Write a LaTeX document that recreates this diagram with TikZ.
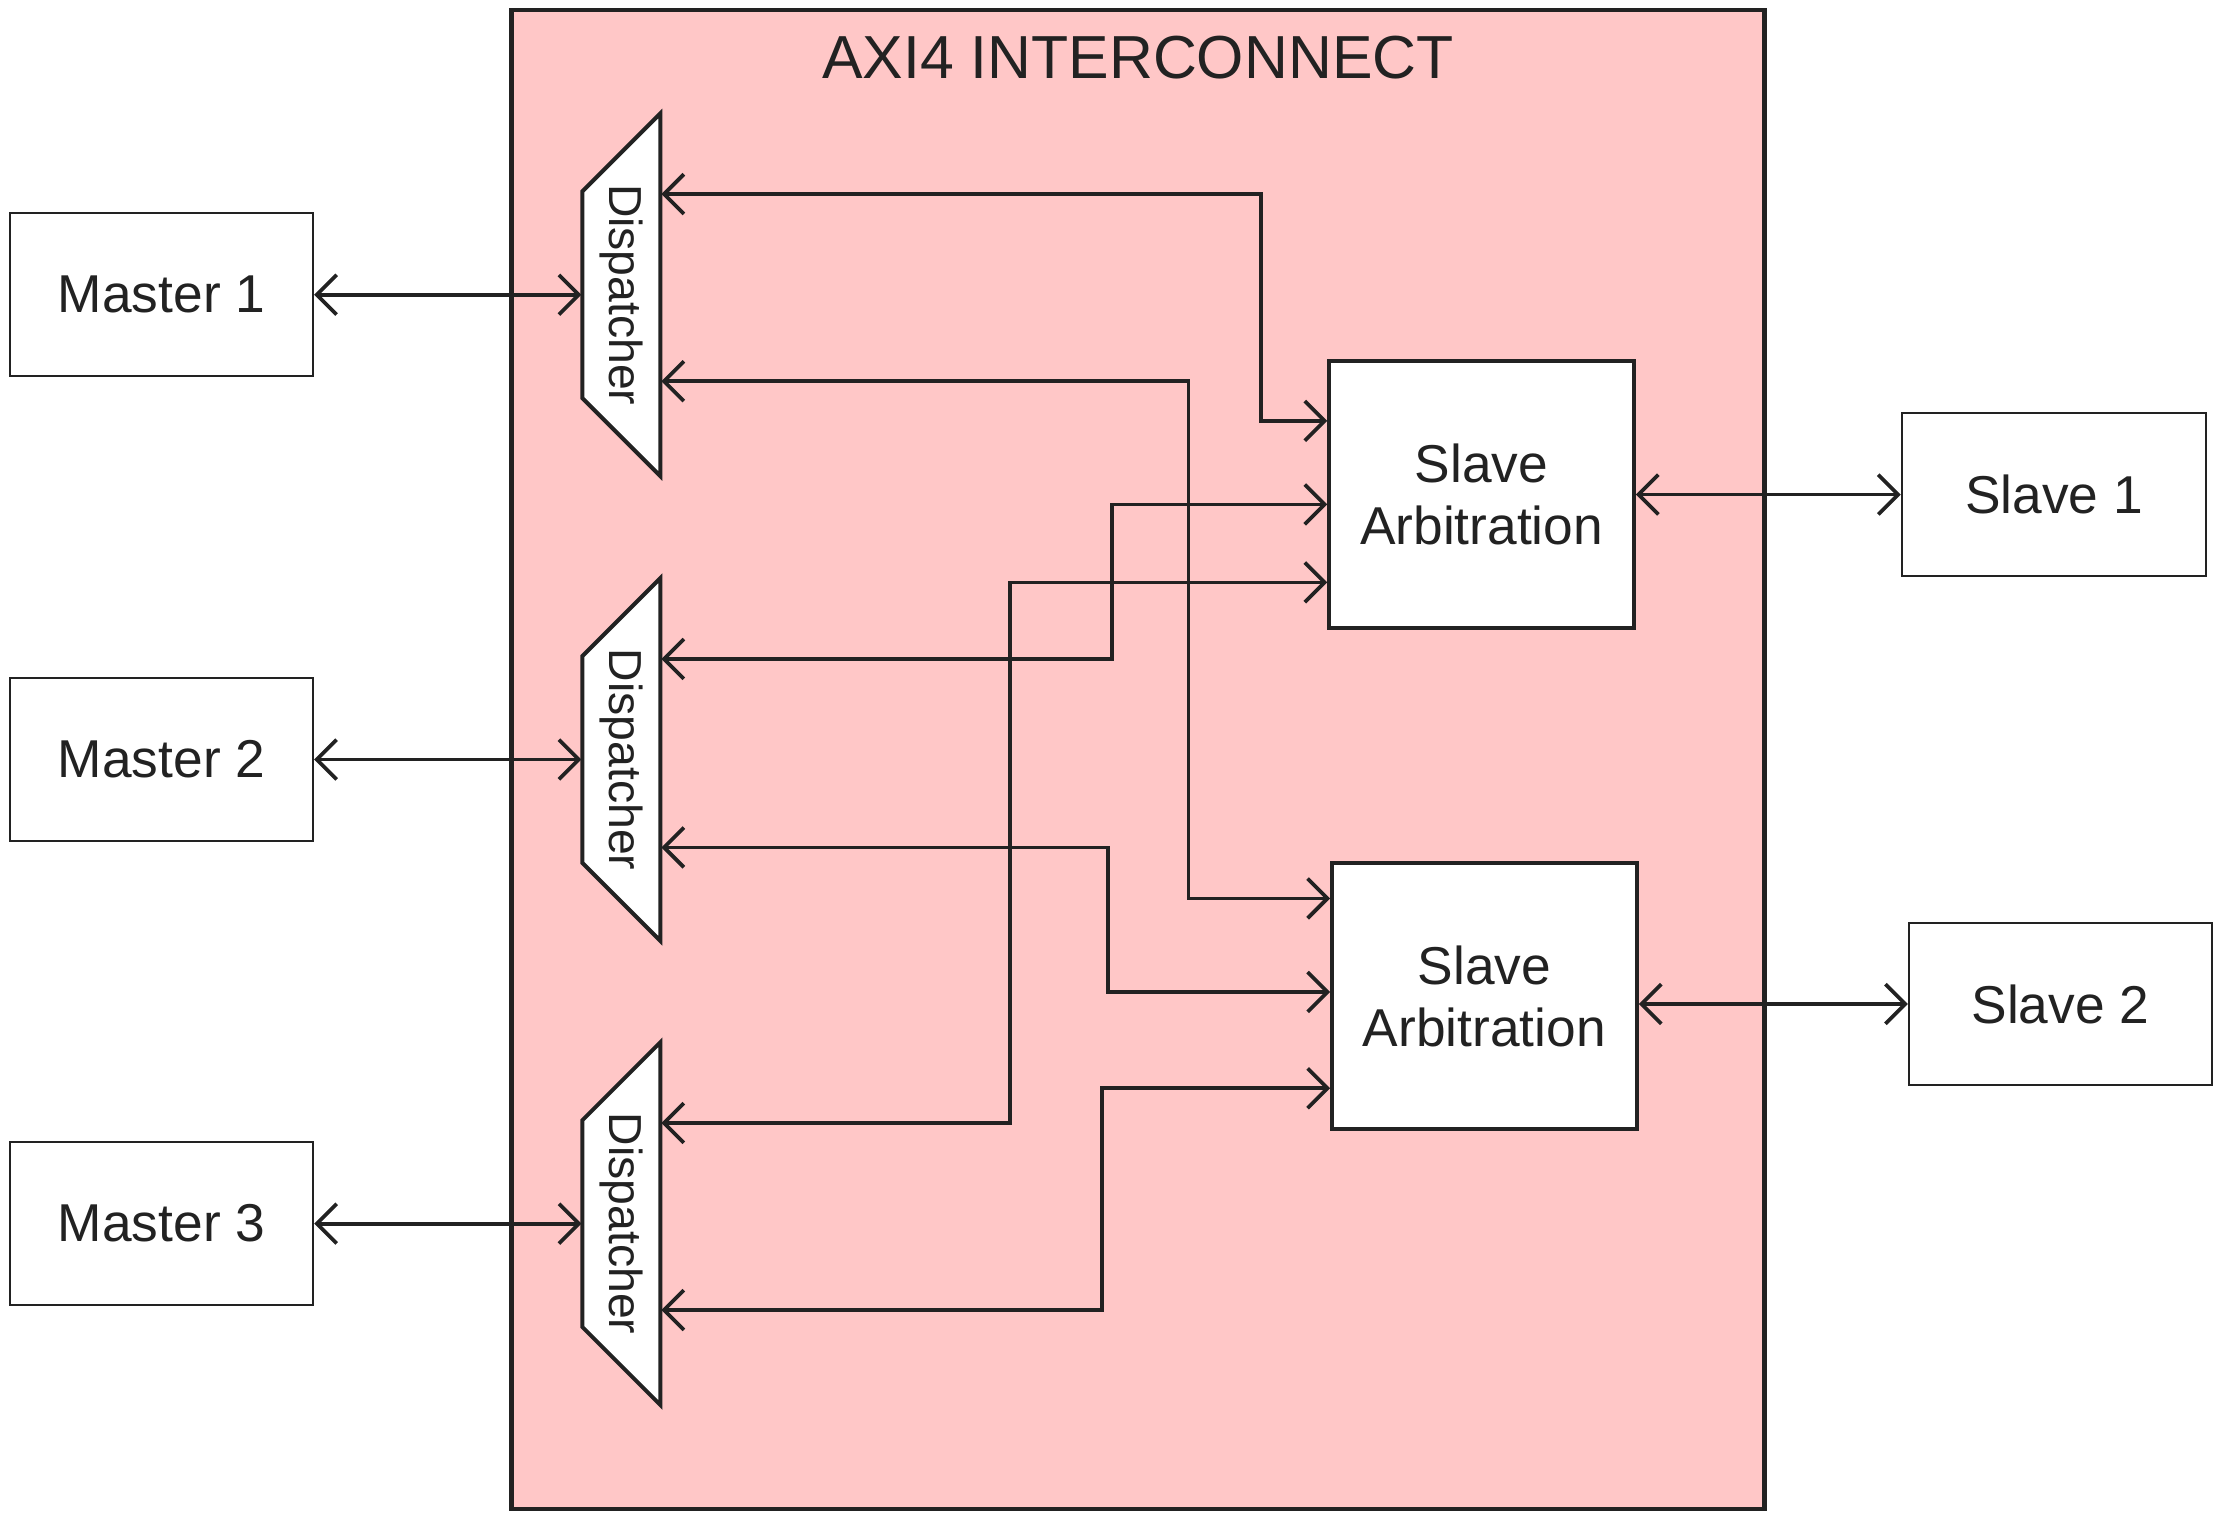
\documentclass[tikz,border=0pt]{standalone}
\usepackage{fontspec}
\setmainfont{Liberation Sans}
\usepackage{graphicx}
\usetikzlibrary{arrows.meta}
\definecolor{pinkfill}{RGB}{255,199,199}
\definecolor{ink}{RGB}{34,34,34}

\begin{document}
\begin{tikzpicture}[
	>={Straight Barb[length=1.4mm,width=2.8mm]},
	unitbox/.style={rectangle, draw=ink, line width=0.4pt, fill=white, text=ink, minimum width=2.14cm, minimum height=1.15cm, font=\fontsize{10.7}{13}\selectfont},
	arbiter/.style={rectangle, draw=ink, line width=0.8pt, fill=white, text=ink, minimum width=2.15cm, minimum height=1.88cm, align=center, font=\fontsize{10.7}{12.5}\selectfont},
	disptext/.style={rectangle, minimum width=0.55cm, minimum height=2.56cm, inner sep=0pt, text=ink, font=\fontsize{9.3}{11}\selectfont},
	trap/.style={draw=ink, fill=white, line width=0.8pt},
	bus/.style={draw=ink, line width=0.75pt, <->},
]
	\useasboundingbox (0,0) rectangle (15.68,10.72);
	\node at (8.03,5.36) [rectangle, draw=ink, line width=0.9pt, fill=pinkfill, minimum width=8.84cm, minimum height=10.58cm] (ic) {};
	\node at (8.03,10.31) [text=ink, font=\fontsize{12.2}{14}\selectfont] (title) {AXI4 INTERCONNECT};

	\node at (1.14,8.64) [unitbox] (m1) {Master 1};
	\node at (1.14,5.36) [unitbox] (m2) {Master 2};
	\node at (1.14,2.085) [unitbox] (m3) {Master 3};

	\draw [trap] (4.66,9.92) -- (4.66,7.36) -- (4.11,7.91) -- (4.11,9.37) -- cycle;
	\draw [trap] (4.66,6.64) -- (4.66,4.08) -- (4.11,4.63) -- (4.11,6.09) -- cycle;
	\draw [trap] (4.66,3.365) -- (4.66,0.805) -- (4.11,1.355) -- (4.11,2.815) -- cycle;
	\node at (4.385,8.64) [disptext] (d1) {\rotatebox{-90}{Dispatcher}};
	\node at (4.385,5.36) [disptext] (d2) {\rotatebox{-90}{Dispatcher}};
	\node at (4.385,2.085) [disptext] (d3) {\rotatebox{-90}{Dispatcher}};

	\node at (10.455,7.23) [arbiter] (sa1) {Slave\\Arbitration};
	\node at (10.475,3.69) [arbiter] (sa2) {Slave\\Arbitration};

	\node at (14.495,7.23) [unitbox, minimum width=2.15cm] (s1) {Slave 1};
	\node at (14.54,3.635) [unitbox] (s2) {Slave 2};

	\draw [bus] (m1) -- (d1);
	\draw [bus] (m2) -- (d2);
	\draw [bus] (m3) -- (d3);
	\draw [bus] (sa1) -- (s1);
	\draw [bus] (sa2.east |- s2) -- (s2);

	\draw [bus] ([yshift=0.71cm]d1.east) -- ++(4.23,0) |- ([yshift=0.52cm]sa1.west);
	\draw [bus] ([yshift=-0.61cm]d1.east) -- ++(3.72,0) |- ([yshift=0.69cm]sa2.west);
	\draw [bus] ([yshift=0.71cm]d2.east) -- ++(3.18,0) |- ([yshift=-0.07cm]sa1.west);
	\draw [bus] ([yshift=-0.62cm]d2.east) -- ++(3.15,0) |- ([yshift=0.03cm]sa2.west);
	\draw [bus] ([yshift=0.71cm]d3.east) -- ++(2.46,0) |- ([yshift=-0.62cm]sa1.west);
	\draw [bus] ([yshift=-0.61cm]d3.east) -- ++(3.11,0) |- ([yshift=-0.65cm]sa2.west);
\end{tikzpicture}
\end{document}
